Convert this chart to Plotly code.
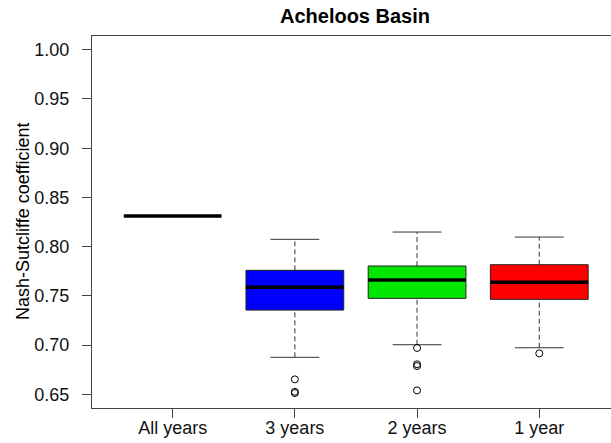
import plotly.graph_objects as go

# ---- data ----
categories = ["All years", "3 years", "2 years", "1 year"]
box_colors = ["#000000", "#0000FF", "#00E600", "#FF0000"]
lower_whisker = [0.8311, 0.6875, 0.7003, 0.6972]
q1 = [0.8311, 0.7355, 0.7474, 0.7464]
median = [0.8311, 0.7586, 0.7660, 0.7637]
q3 = [0.8311, 0.7759, 0.7803, 0.7816]
upper_whisker = [0.8311, 0.8074, 0.8148, 0.8097]
outliers = [[], [0.6651, 0.6525, 0.6512], [0.6970, 0.6804, 0.6786, 0.6539], [0.6915]]
y_ticks = [0.65, 0.70, 0.75, 0.80, 0.85, 0.90, 0.95, 1.00]

FONT = "Liberation Sans, Arial, sans-serif"
HALF = 0.4
CAP = 0.2

fig = go.Figure()
for i, cat in enumerate(categories):
    x = i + 1
    single = q1[i] == q3[i] and lower_whisker[i] == upper_whisker[i]
    if not single:
        # whiskers (dashed)
        fig.add_trace(go.Scatter(
            x=[x, x, None, x, x], y=[q3[i], upper_whisker[i], None, lower_whisker[i], q1[i]],
            mode="lines", line=dict(color="#333333", width=1, dash="5px,3px"),
            showlegend=False, hoverinfo="skip"))
        # caps
        fig.add_trace(go.Scatter(
            x=[x - CAP, x + CAP, None, x - CAP, x + CAP],
            y=[upper_whisker[i], upper_whisker[i], None, lower_whisker[i], lower_whisker[i]],
            mode="lines", line=dict(color="#333333", width=1),
            showlegend=False, hoverinfo="skip"))
        # box
        fig.add_trace(go.Scatter(
            x=[x - HALF, x + HALF, x + HALF, x - HALF, x - HALF],
            y=[q1[i], q1[i], q3[i], q3[i], q1[i]],
            mode="lines", fill="toself", fillcolor=box_colors[i],
            line=dict(color="#222222", width=1),
            showlegend=False, hoverinfo="skip"))
    # median
    fig.add_trace(go.Scatter(
        x=[x - HALF, x + HALF], y=[median[i], median[i]],
        mode="lines", line=dict(color="#000000", width=3.5),
        showlegend=False, hoverinfo="skip"))
    if outliers[i]:
        fig.add_trace(go.Scatter(
            x=[x] * len(outliers[i]), y=outliers[i], mode="markers",
            marker=dict(symbol="circle-open", size=7, color="#000000", line=dict(width=1)),
            showlegend=False, hoverinfo="skip"))

fig.update_layout(
    width=611, height=443,
    margin=dict(l=92, r=0, t=36, b=35),
    paper_bgcolor="white", plot_bgcolor="white",
    font=dict(family=FONT, color="#111111"),
    title=dict(text="<b>Acheloos Basin</b>", x=355 / 611, xanchor="center",
               y=1 - 16 / 443, yanchor="middle", font=dict(size=20, color="#000000")),
    showlegend=False,
)
fig.update_xaxes(
    range=[0.34, 4.587], tickmode="array", tickvals=[1, 2, 3, 4], ticktext=categories,
    showline=True, mirror=True, linecolor="#444444", linewidth=1,
    ticks="outside", ticklen=9, tickcolor="#444444", tickfont=dict(size=18),
    ticklabelstandoff=-6,
    showgrid=False, zeroline=False,
)
fig.update_yaxes(
    range=[0.636, 1.014], tickmode="array", tickvals=y_ticks,
    ticktext=["%.2f" % v for v in y_ticks],
    showline=True, mirror=False, linecolor="#444444", linewidth=1,
    ticks="outside", ticklen=9, tickcolor="#444444", tickfont=dict(size=18),
    ticklabelstandoff=9,
    showgrid=False, zeroline=False,
)
fig.add_annotation(
    text="Nash-Sutcliffe coefficient", textangle=-90,
    xref="paper", yref="paper", x=(23 - 92) / 519, y=0.5,
    xanchor="center", yanchor="middle", showarrow=False,
    font=dict(size=18, color="#000000"),
)

fig.write_html("out.html")
